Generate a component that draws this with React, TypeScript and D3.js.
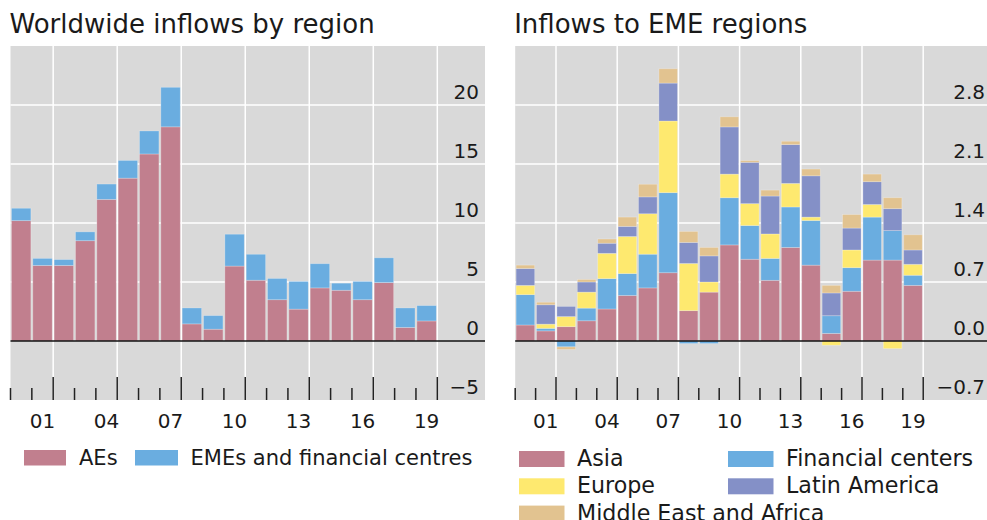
import React from 'react';
import * as d3 from 'd3';

const years = ['2000','2001','2002','2003','2004','2005','2006','2007','2008','2009','2010','2011','2012','2013','2014','2015','2016','2017','2018','2019'];
const labelYears = ['2001','2004','2007','2010','2013','2016','2019'];

const aes = [10.2, 6.4, 6.4, 8.5, 12.0, 13.8, 15.85, 18.15, 1.45, 1.0, 6.35, 5.15, 3.5, 2.7, 4.5, 4.3, 3.5, 4.95, 1.15, 1.7];
const emes = [1.05, 0.6, 0.5, 0.75, 1.3, 1.5, 1.95, 3.35, 1.35, 1.15, 2.7, 2.2, 1.8, 2.35, 2.05, 0.6, 1.55, 2.1, 1.65, 1.3];

const asia = [0.19, 0.12, 0.17, 0.24, 0.38, 0.54, 0.63, 0.81, 0.36, 0.58, 1.14, 0.97, 0.72, 1.11, 0.90, 0.09, 0.59, 0.96, 0.96, 0.66];
const finCenters = [0.36, 0.03, -0.07, 0.15, 0.36, 0.26, 0.40, 0.95, -0.03, -0.03, 0.56, 0.40, 0.26, 0.48, 0.53, 0.21, 0.28, 0.51, 0.35, 0.12];
const europe = [0.11, 0.05, 0.12, 0.19, 0.30, 0.44, 0.48, 0.85, 0.56, 0.12, 0.28, 0.26, 0.29, 0.28, 0.04, -0.05, 0.21, 0.15, -0.09, 0.13];
const latAm = [0.20, 0.23, 0.12, 0.12, 0.12, 0.12, 0.20, 0.45, 0.25, 0.31, 0.56, 0.49, 0.45, 0.46, 0.49, 0.27, 0.26, 0.27, 0.26, 0.17];
const mea = [0.04, 0.03, -0.03, 0.03, 0.05, 0.11, 0.15, 0.17, 0.13, 0.10, 0.12, 0.02, 0.07, 0.04, 0.08, 0.09, 0.16, 0.09, 0.13, 0.18];

const leftTicks = [-5, 0, 5, 10, 15, 20];
const rightTicks = [-0.7, 0, 0.7, 1.4, 2.1, 2.8];

const leftSeries = [
  { key: 'AEs', label: 'AEs', color: '#c17f8e', values: aes },
  { key: 'EMEs', label: 'EMEs and financial centres', color: '#6aade0', values: emes },
];
const rightSeries = [
  { key: 'Asia', label: 'Asia', color: '#c17f8e', values: asia },
  { key: 'FC', label: 'Financial centers', color: '#6aade0', values: finCenters },
  { key: 'Europe', label: 'Europe', color: '#fee96f', values: europe },
  { key: 'LatAm', label: 'Latin America', color: '#8490c7', values: latAm },
  { key: 'MEA', label: 'Middle East and Africa', color: '#e2c390', values: mea },
];

const FONT = 'DejaVu Sans';
const TEXT = '#1a1a1a';
const BG = '#d9d9d9';

type Series = { key: string; label: string; color: string; values: number[] };

function Panel(props: {
  title: string; left: number; bandEnd: number; right: number; top: number; bottom: number;
  domain: [number, number]; ticks: number[]; fmt: (v: number) => string; labelRight: number;
  series: Series[];
}) {
  const { title, left, bandEnd, right, top, bottom, domain, ticks, fmt, labelRight, series } = props;
  const x = d3.scaleBand<string>().domain(years).range([left, bandEnd]).paddingInner(0.09).paddingOuter(0.045);
  const y = d3.scaleLinear().domain(domain).range([bottom, top]);
  const step = x.step();
  const rows = years.map((yr, i) => {
    const o: any = { year: yr };
    series.forEach(s => { o[s.key] = s.values[i]; });
    return o;
  });
  const stacked = d3.stack<any>().keys(series.map(s => s.key)).offset(d3.stackOffsetDiverging)(rows);
  const boundaries = d3.range(0, years.length + 1);
  const isMajor = (i: number) => i % 3 === 2;
  return (
    <g>
      <text x={left - 1} y={33} fontFamily={FONT} fontSize={26} fill={TEXT}>{title}</text>
      <rect x={left} y={top} width={right - left} height={bottom - top} fill={BG} />
      {ticks.filter(t => t !== 0 && t !== domain[0]).map(t => (
        <line key={'h' + t} x1={left} x2={right} y1={y(t)} y2={y(t)} stroke="#ffffff" strokeWidth={1.5} />
      ))}
      {boundaries.filter(isMajor).map(i => (
        <line key={'v' + i} x1={left + i * step} x2={left + i * step} y1={top} y2={bottom} stroke="#ffffff" strokeWidth={1.5} />
      ))}
      {stacked.map((layer, li) => (
        <g key={layer.key} fill={series[li].color}>
          {layer.map((d, i) => (
            <rect key={i} x={x(years[i])} width={x.bandwidth()}
              y={y(Math.max(d[0], d[1]))} height={Math.abs(y(d[0]) - y(d[1]))}
              stroke="#ffffff" strokeOpacity={0.3} strokeWidth={0.8} />
          ))}
        </g>
      ))}
      <line x1={left} x2={right} y1={y(0)} y2={y(0)} stroke="#111" strokeWidth={1.3} />
      {boundaries.map(i => (
        <line key={'t' + i} x1={left + i * step} x2={left + i * step}
          y1={bottom - (isMajor(i) ? 23 : 12)} y2={bottom} stroke="#222" strokeWidth={1.5} />
      ))}
      {ticks.map(t => (
        <text key={'yl' + t} x={labelRight} y={y(t) - 6.5} textAnchor="end" fontFamily={FONT} fontSize={20} fill={TEXT}>{fmt(t)}</text>
      ))}
      {labelYears.map(yr => (
        <text key={'xl' + yr} x={(x(yr) as number) + x.bandwidth() / 2} y={428} textAnchor="middle" fontFamily={FONT} fontSize={20} fill={TEXT}>{yr.slice(2)}</text>
      ))}
    </g>
  );
}

const minus = (s: string) => s.replace('-', '\u2212');

export default function App() {
  return (
    <svg width={987} height={520} style={{ position: 'absolute', left: 0, top: 0, background: '#ffffff' }}>
      <Panel title="Worldwide inflows by region" left={10.5} bandEnd={437.3} right={485} top={46} bottom={400}
        domain={[-5, 25]} ticks={leftTicks} fmt={v => minus(d3.format('d')(v))} labelRight={479} series={leftSeries} />
      <Panel title="Inflows to EME regions" left={515.2} bandEnd={923.2} right={987} top={46} bottom={400}
        domain={[-0.7, 3.5]} ticks={rightTicks} fmt={v => minus(d3.format('.1f')(v))} labelRight={985} series={rightSeries} />
      <g fontFamily={FONT} fontSize={21} fill={TEXT}>
        <rect x={24} y={450} width={42} height={15.5} fill={leftSeries[0].color} />
        <text x={79} y={464.5}>{leftSeries[0].label}</text>
        <rect x={135} y={450} width={43} height={15.5} fill={leftSeries[1].color} />
        <text x={190.5} y={464.5}>{leftSeries[1].label}</text>
      </g>
      <g fontFamily={FONT} fontSize={22.2} fill={TEXT}>
        {[0, 2, 4, 1, 3].map((si, k) => {
          const s = rightSeries[si];
          const col = k < 3 ? 0 : 1;
          const row = k < 3 ? k : k - 3;
          const sx = col === 0 ? 519 : 728;
          const sy = 451 + row * 27.3;
          return (
            <g key={s.key}>
              <rect x={sx} y={sy} width={45.5} height={16} fill={s.color} />
              <text x={sx + 58} y={sy + 15}>{s.label}</text>
            </g>
          );
        })}
      </g>
    </svg>
  );
}
